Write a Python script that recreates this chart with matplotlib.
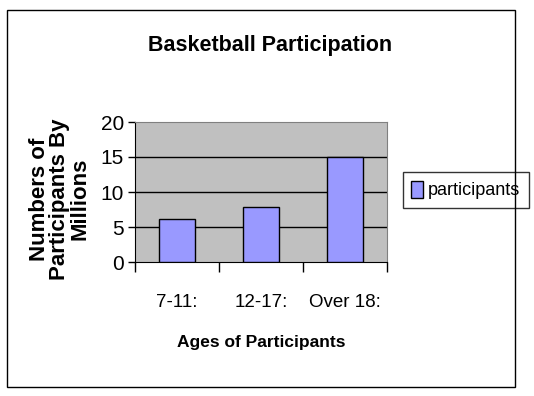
import matplotlib
matplotlib.use("Agg")
import matplotlib.pyplot as plt
from matplotlib.patches import Rectangle, Patch

categories = ["7-11:", "12-17:", "Over 18:"]
values = [6.1, 7.8, 15]
series_name = "participants"
yticks = [0, 5, 10, 15, 20]

W, H = 534, 396
fig = plt.figure(figsize=(W / 100, H / 100), dpi=100)
fig.patch.set_facecolor("white")

reg = ["Liberation Sans", "DejaVu Sans"]

def fx(px):
    return px / W

def fy(py):
    return 1 - py / H

# outer border
fig.patches.append(Rectangle((fx(7), fy(387)), fx(515) - fx(7), fy(10) - fy(387),
                             transform=fig.transFigure, fill=False, edgecolor="black", linewidth=1.0))

ax = fig.add_axes([fx(135), fy(262), fx(387) - fx(135), fy(122) - fy(262)])
ax.set_facecolor("#C0C0C0")
x = list(range(len(categories)))
ax.bar(x, values, width=0.42, color="#9999FF", edgecolor="black", linewidth=1.0, zorder=3,
       label=series_name)
ax.set_xlim(-0.5, len(categories) - 0.5)
ax.set_ylim(0, 20)
ax.set_yticks(yticks)
ax.set_yticklabels([str(v) for v in yticks], fontsize=15, family=reg)
for v in yticks[1:-1]:
    ax.axhline(v, color="black", linewidth=1.0, zorder=2)
ax.tick_params(axis="y", direction="out", length=5, width=1, pad=3)
ax.set_xticks([-0.5, 0.5, 1.5, 2.5])
ax.set_xticklabels([])
ax.tick_params(axis="x", which="major", direction="out", length=7, width=1)
ax.set_xticks(x, minor=True)
ax.set_xticklabels(categories, minor=True, fontsize=13.5, family=reg)
ax.tick_params(axis="x", which="minor", length=0, pad=23)
for s in ["top", "right"]:
    ax.spines[s].set_color("#808080")
for s in ["left", "bottom"]:
    ax.spines[s].set_color("black")

fig.text(fx(270), fy(45), "Basketball Participation", ha="center", va="center",
         fontsize=15.5, fontweight="bold", family=reg)
fig.text(fx(261), fy(342), "Ages of Participants", ha="center", va="center",
         fontsize=12.5, fontweight="bold", family=reg)
fig.text(fx(60), fy(199), "Numbers of\nParticipants By\nMillions", ha="center", va="center",
         rotation=90, fontsize=16, fontweight="bold", family=reg, linespacing=0.95)

leg = ax.legend(handles=[Patch(facecolor="#9999FF", edgecolor="black", label=series_name)],
                loc="center left", bbox_to_anchor=(fx(403), fy(190)),
                bbox_transform=fig.transFigure, frameon=True, fancybox=False,
                prop={"family": reg, "size": 13}, handlelength=0.65, handleheight=1.1,
                handletextpad=0.3, borderpad=0.45, borderaxespad=0)
leg.get_frame().set_edgecolor("black")
leg.get_frame().set_linewidth(1.0)

fig.savefig("out.png", dpi=100)
